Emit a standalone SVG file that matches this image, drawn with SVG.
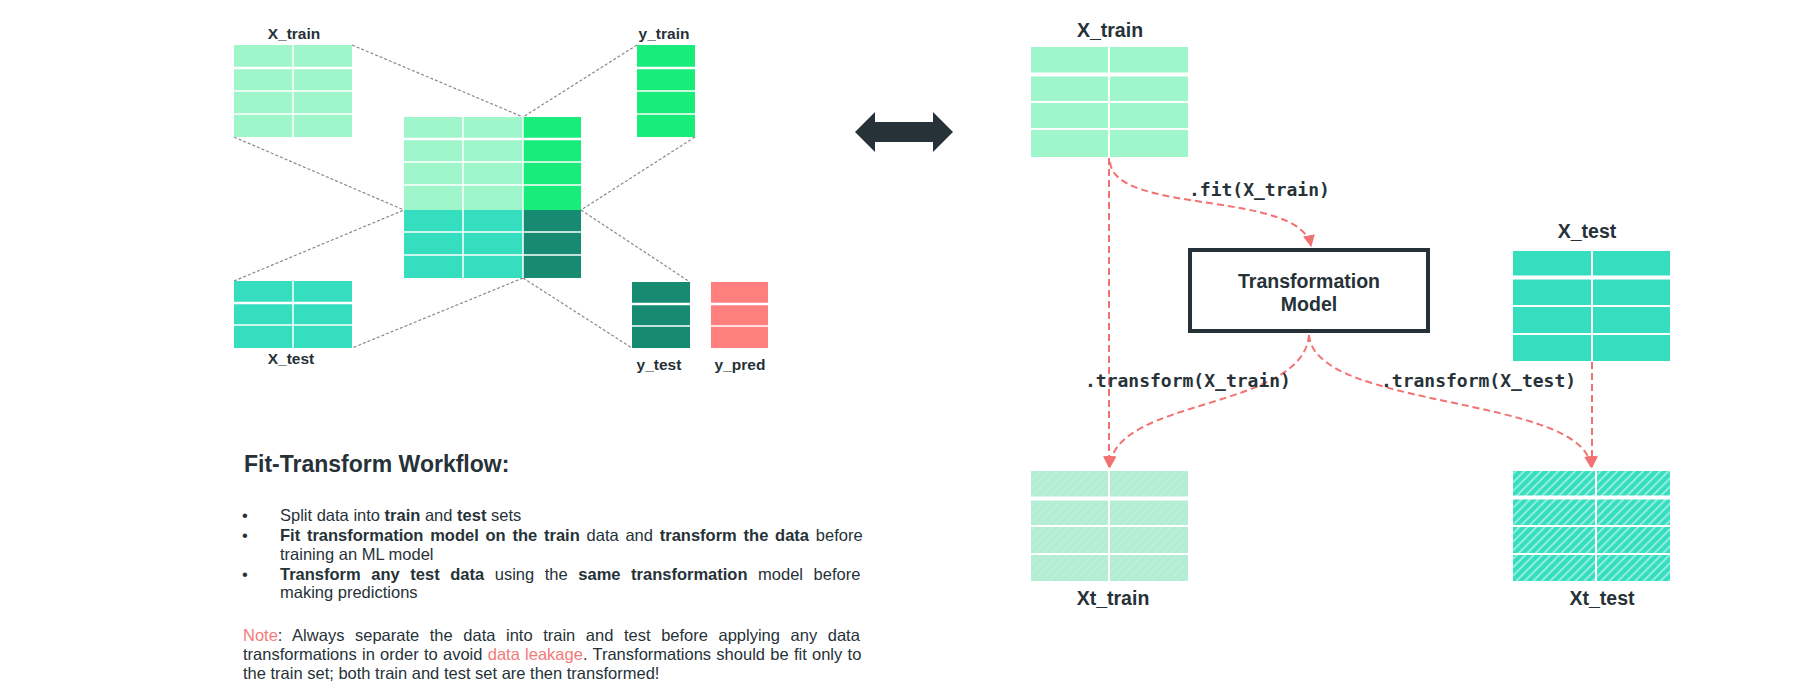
<svg xmlns="http://www.w3.org/2000/svg" width="1820" height="687" viewBox="0 0 1820 687">
<defs>
<style>
.lbl{font-family:"Liberation Sans",Arial,sans-serif;font-weight:bold;fill:#263238;text-anchor:middle}
.s{font-size:15.5px}
.l{font-size:19.5px}
.code{font-family:"DejaVu Sans Mono","Liberation Mono",monospace;font-weight:bold;font-size:18px;fill:#263238}
.body{font-family:"Liberation Sans",Arial,sans-serif;font-size:16.5px;fill:#263238}
.b{font-weight:bold}
.red{fill:#F47A7A}
.wl{stroke:#fff;stroke-width:1.5}
.wt{stroke:#fff;stroke-width:2.5}
.wr{stroke:#fff;stroke-width:2}
.wrt{stroke:#fff;stroke-width:4}
.gd{fill:none;stroke:#8a8a8a;stroke-width:1.2;stroke-dasharray:3 2}
.sd{fill:none;stroke:#F27272;stroke-width:2;stroke-dasharray:7 4}
</style>
<marker id="ah" markerUnits="userSpaceOnUse" markerWidth="12" markerHeight="12" viewBox="0 0 10 10" refX="9" refY="5" orient="auto">
<path d="M0,0 L10,5 L0,10 z" fill="#F27272"/>
</marker>
<pattern id="hatchT" patternUnits="userSpaceOnUse" width="6" height="6" patternTransform="rotate(45)">
<rect width="6" height="6" fill="#36DEC0"/>
<rect width="2" height="6" fill="#ffffff" fill-opacity="0.45"/>
</pattern>
<pattern id="hatchM" patternUnits="userSpaceOnUse" width="6" height="6" patternTransform="rotate(45)">
<rect width="6" height="6" fill="#B3EDD4"/>
<rect width="2" height="6" fill="#ffffff" fill-opacity="0.1"/>
</pattern>
</defs>
<rect width="1820" height="687" fill="#ffffff"/>

<g id="connectors">
<line class="gd" x1="352" y1="45" x2="523" y2="117"/>
<line class="gd" x1="234" y1="137" x2="404" y2="210"/>
<line class="gd" x1="637" y1="45" x2="523" y2="117"/>
<line class="gd" x1="695" y1="137" x2="581" y2="210"/>
<line class="gd" x1="234" y1="281" x2="404" y2="210"/>
<line class="gd" x1="523" y1="278" x2="352" y2="348"/>
<line class="gd" x1="523" y1="278" x2="632" y2="348"/>
<line class="gd" x1="581" y1="210" x2="690" y2="282"/>
<path class="sd" d="M1109,158 L1109,467" marker-end="url(#ah)"/>
<path class="sd" d="M1110,162 C1115,215 1300,190 1311,246" marker-end="url(#ah)"/>
<path class="sd" d="M1309,335 C1303,410 1113,398 1110,467" marker-end="url(#ah)"/>
<path class="sd" d="M1309,335 C1315,410 1585,395 1591,467" marker-end="url(#ah)"/>
<path class="sd" d="M1592,362 L1592,467" marker-end="url(#ah)"/>
<text class="code" x="1189" y="196">.fit(X_train)</text>
<text class="code" x="1085" y="387">.transform(X_train)</text>
<text class="code" x="1381" y="387">.transform(X_test)</text>
</g>

<g id="l_xtrain">
<rect x="234" y="45" width="118" height="92" fill="#A0F6CB"/>
<line class="wt" x1="234" y1="68" x2="352" y2="68"/>
<line class="wl" x1="234" y1="91" x2="352" y2="91"/>
<line class="wl" x1="234" y1="114" x2="352" y2="114"/>
<line class="wl" x1="293" y1="45" x2="293" y2="137"/>
<text class="lbl s" x="294" y="39">X_train</text>
</g>

<g id="l_ytrain">
<rect x="637" y="45" width="58" height="92" fill="#18EC7A"/>
<line class="wt" x1="637" y1="68" x2="695" y2="68"/>
<line class="wl" x1="637" y1="91" x2="695" y2="91"/>
<line class="wl" x1="637" y1="114" x2="695" y2="114"/>
<text class="lbl s" x="664" y="39">y_train</text>
</g>

<g id="l_full">
<rect x="404" y="117" width="119" height="93" fill="#A0F6CB"/>
<rect x="523" y="117" width="58" height="93" fill="#18EC7A"/>
<rect x="404" y="210" width="119" height="68" fill="#36DEC0"/>
<rect x="523" y="210" width="58" height="68" fill="#178A72"/>
<line class="wt" x1="404" y1="139" x2="581" y2="139"/>
<line class="wl" x1="404" y1="162" x2="581" y2="162"/>
<line class="wl" x1="404" y1="185" x2="581" y2="185"/>
<line class="wl" x1="404" y1="232" x2="581" y2="232"/>
<line class="wl" x1="404" y1="255" x2="581" y2="255"/>
<line class="wl" x1="463" y1="117" x2="463" y2="278"/>
<line class="wl" x1="523" y1="117" x2="523" y2="278"/>
</g>

<g id="l_xtest">
<rect x="234" y="281" width="118" height="67" fill="#36DEC0"/>
<line class="wt" x1="234" y1="303" x2="352" y2="303"/>
<line class="wl" x1="234" y1="325" x2="352" y2="325"/>
<line class="wl" x1="293" y1="281" x2="293" y2="348"/>
<text class="lbl s" x="291" y="364">X_test</text>
</g>

<g id="l_ytest">
<rect x="632" y="282" width="58" height="66" fill="#178A72"/>
<line class="wt" x1="632" y1="304" x2="690" y2="304"/>
<line class="wl" x1="632" y1="326" x2="690" y2="326"/>
<text class="lbl s" x="659" y="370">y_test</text>
</g>

<g id="l_ypred">
<rect x="711" y="282" width="57" height="66" fill="#FF7F7F"/>
<line class="wt" x1="711" y1="304" x2="768" y2="304"/>
<line class="wl" x1="711" y1="326" x2="768" y2="326"/>
<text class="lbl s" x="740" y="370">y_pred</text>
</g>

<g id="double_arrow">
<polygon points="855,132 875,112 875,122 933,122 933,112 953,132 933,152 933,142 875,142 875,152" fill="#263238"/>
</g>

<g id="r_xtrain">
<rect x="1031" y="47" width="157" height="110" fill="#A0F6CB"/>
<line class="wrt" x1="1031" y1="74.5" x2="1188" y2="74.5"/>
<line class="wr" x1="1031" y1="102" x2="1188" y2="102"/>
<line class="wr" x1="1031" y1="129" x2="1188" y2="129"/>
<line class="wr" x1="1109" y1="47" x2="1109" y2="157"/>
<text class="lbl l" x="1110" y="37">X_train</text>
</g>

<g id="r_model">
<rect x="1190" y="250" width="238" height="81" fill="#ffffff" stroke="#263238" stroke-width="4"/>
<text class="lbl" style="font-size:19.5px" x="1309" y="288">Transformation</text>
<text class="lbl" style="font-size:19.5px" x="1309" y="311">Model</text>
</g>

<g id="r_xtest">
<rect x="1513" y="251" width="157" height="110" fill="#36DEC0"/>
<line class="wrt" x1="1513" y1="277.5" x2="1670" y2="277.5"/>
<line class="wr" x1="1513" y1="306" x2="1670" y2="306"/>
<line class="wr" x1="1513" y1="334" x2="1670" y2="334"/>
<line class="wr" x1="1592" y1="251" x2="1592" y2="361"/>
<text class="lbl l" x="1587" y="238">X_test</text>
</g>

<g id="r_xttrain">
<rect x="1031" y="471" width="157" height="110" fill="url(#hatchM)"/>
<line class="wrt" x1="1031" y1="498.5" x2="1188" y2="498.5"/>
<line class="wr" x1="1031" y1="526" x2="1188" y2="526"/>
<line class="wr" x1="1031" y1="554" x2="1188" y2="554"/>
<line class="wr" x1="1109" y1="471" x2="1109" y2="581"/>
<text class="lbl l" x="1113" y="605">Xt_train</text>
</g>

<g id="r_xttest">
<rect x="1513" y="471" width="157" height="110" fill="url(#hatchT)"/>
<line class="wrt" x1="1513" y1="497.5" x2="1670" y2="497.5"/>
<line class="wr" x1="1513" y1="526" x2="1670" y2="526"/>
<line class="wr" x1="1513" y1="554" x2="1670" y2="554"/>
<line class="wr" x1="1596" y1="471" x2="1596" y2="581"/>
<text class="lbl l" x="1602" y="605">Xt_test</text>
</g>

<g id="workflow_text">
<text class="body b" x="244" y="472" style="font-size:23px">Fit-Transform Workflow:</text>
<text class="body" x="242" y="521">•</text>
<text class="body" x="242" y="541">•</text>
<text class="body" x="242" y="580">•</text>
<text class="body" x="280" y="521">Split data into <tspan class="b">train</tspan> and <tspan class="b">test</tspan> sets</text>
<text class="body" x="280" y="541" style="word-spacing:2.2px"><tspan class="b">Fit transformation model on the train</tspan> data and <tspan class="b">transform the data</tspan> before</text>
<text class="body" x="280" y="560">training an ML model</text>
<text class="body" x="280" y="580" style="word-spacing:6px"><tspan class="b">Transform any test data</tspan> using the <tspan class="b">same transformation</tspan> model before</text>
<text class="body" x="280" y="598">making predictions</text>
<text class="body" x="243" y="641" style="word-spacing:6px"><tspan class="red">Note</tspan>: Always separate the data into train and test before applying any data</text>
<text class="body" x="243" y="660" style="word-spacing:0.7px">transformations in order to avoid <tspan class="red">data leakage</tspan>. Transformations should be fit only to</text>
<text class="body" x="243" y="679">the train set; both train and test set are then transformed!</text>
</g>
</svg>
